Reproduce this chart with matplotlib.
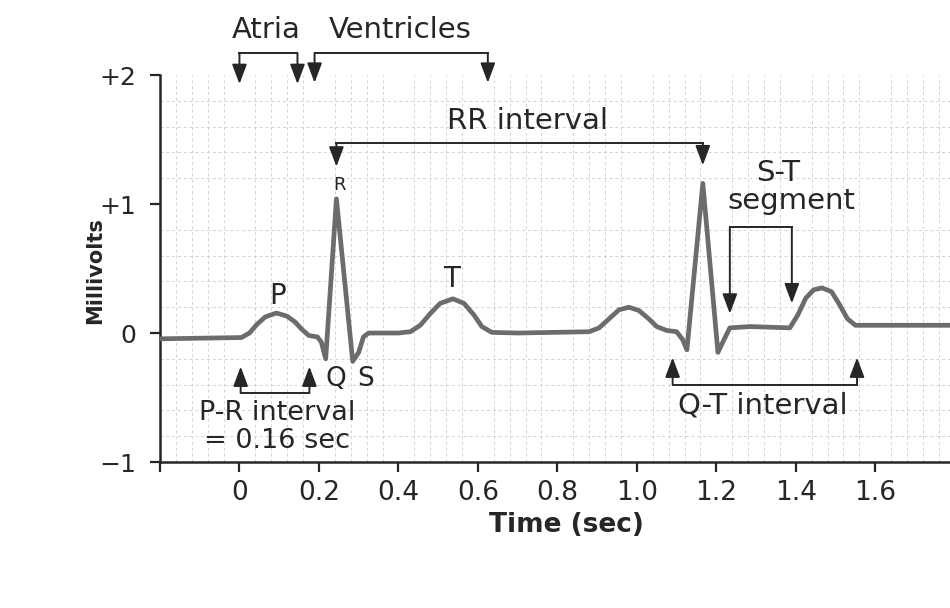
import matplotlib
matplotlib.use("Agg")
import matplotlib.pyplot as plt
import numpy as np

# ECG trace (time in s, potential in mV)
time_s = [-0.200, 0.005, 0.025, 0.045, 0.065, 0.093, 0.120, 0.140, 0.158,
          0.175, 0.196, 0.206, 0.217, 0.244, 0.285, 0.300, 0.312, 0.325,
          0.400, 0.430, 0.455, 0.480, 0.505, 0.537, 0.565, 0.590, 0.610,
          0.635, 0.700, 0.880, 0.905, 0.930, 0.955, 0.980, 1.005, 1.030,
          1.050, 1.075, 1.100, 1.115, 1.126, 1.166, 1.204, 1.218, 1.234,
          1.285, 1.385, 1.405, 1.425, 1.445, 1.466, 1.490, 1.510, 1.530,
          1.550, 1.788]
millivolts = [-0.045, -0.035, 0.000, 0.070, 0.125, 0.155, 0.130, 0.085, 0.025,
              -0.020, -0.030, -0.070, -0.200, 1.040, -0.220, -0.150, -0.030, 0.000,
              0.000, 0.010, 0.060, 0.150, 0.230, 0.265, 0.230, 0.140, 0.050,
              0.005, 0.000, 0.010, 0.040, 0.110, 0.180, 0.200, 0.175, 0.110,
              0.050, 0.020, 0.010, -0.050, -0.130, 1.160, -0.150, -0.060, 0.040,
              0.050, 0.040, 0.140, 0.270, 0.335, 0.350, 0.320, 0.220, 0.110,
              0.060, 0.060]

x_ticks = [-0.2, 0, 0.2, 0.4, 0.6, 0.8, 1.0, 1.2, 1.4, 1.6]
x_labels = ["", "0", "0.2", "0.4", "0.6", "0.8", "1.0", "1.2", "1.4", "1.6"]
y_ticks = [-1, 0, 1, 2]
y_labels = ["\u22121", "0", "+1", "+2"]

ink = "#262626"
plt.rcParams["font.family"] = ["DejaVu Sans"]

fig = plt.figure(figsize=(9.5, 6.08), dpi=100)
ax = fig.add_axes([0.1684, 0.2401, 0.8316, 0.6365])
ax.set_xlim(-0.2, 1.788)
ax.set_ylim(-1, 2)

# faint chart-paper grid
ax.set_xticks(np.arange(-0.2, 1.8, 0.04), minor=True)
ax.set_yticks(np.arange(-1, 2.01, 0.2), minor=True)
ax.grid(which="minor", color="#d2d2d2", lw=0.7, ls=(0, (3, 3)))
ax.tick_params(which="minor", length=0)

ax.plot(time_s, millivolts, color="#6c6c6c", lw=3.4,
        solid_joinstyle="round", solid_capstyle="round", zorder=3)

for side in ["top", "right"]:
    ax.spines[side].set_visible(False)
for side in ["left", "bottom"]:
    ax.spines[side].set_linewidth(1.8)
    ax.spines[side].set_color(ink)

ax.set_xticks(x_ticks)
ax.set_xticklabels(x_labels)
ax.set_yticks(y_ticks)
ax.set_yticklabels(y_labels)
ax.tick_params(axis="x", which="major", direction="out", length=7, width=1.6,
               color=ink, labelsize=19, labelcolor=ink, pad=6)
ax.tick_params(axis="y", which="major", direction="out", length=7, width=1.6,
               color=ink, labelsize=18, labelcolor=ink, pad=10)

ax.set_xlabel("Time (sec)", fontsize=19, fontweight="bold", color=ink, va="center")
ax.xaxis.set_label_coords(0.514, -0.163)
ax.set_ylabel("Millivolts", fontsize=15, fontweight="bold", color=ink, va="center")
ax.yaxis.set_label_coords(-0.082, 0.496)

arrow = dict(arrowstyle="-|>,head_length=0.8,head_width=0.3", mutation_scale=15,
             color=ink, lw=1.4, shrinkA=0, shrinkB=0)


def bracket(x1, x2, y_bar, tip1, tip2):
    ax.plot([x1, x2], [y_bar, y_bar], color=ink, lw=1.4, clip_on=False, zorder=4)
    ax.annotate("", xy=(x1, tip1), xytext=(x1, y_bar), arrowprops=arrow,
                annotation_clip=False, zorder=4)
    ax.annotate("", xy=(x2, tip2), xytext=(x2, y_bar), arrowprops=arrow,
                annotation_clip=False, zorder=4)


bracket(0.0, 0.146, 2.17, 1.93, 1.93)        # atria
bracket(0.189, 0.625, 2.17, 1.94, 1.94)      # ventricles
bracket(0.244, 1.166, 1.47, 1.29, 1.30)      # RR interval
bracket(0.003, 0.176, -0.465, -0.26, -0.26)  # P-R interval
bracket(1.234, 1.390, 0.82, 0.15, 0.23)      # S-T segment
bracket(1.090, 1.554, -0.40, -0.19, -0.19)   # Q-T interval

txt = dict(color=ink, ha="center", va="center", zorder=5)
ax.text(0.068, 2.35, "Atria", fontsize=21, clip_on=False, **txt)
ax.text(0.405, 2.35, "Ventricles", fontsize=21, clip_on=False, **txt)
ax.text(0.725, 1.64, "RR interval", fontsize=21, **txt)
ax.text(0.252, 1.15, "R", fontsize=13, **txt)
ax.text(0.096, 0.29, "P", fontsize=20, **txt)
ax.text(0.534, 0.42, "T", fontsize=20, **txt)
ax.text(0.243, -0.36, "Q", fontsize=19, **txt)
ax.text(0.317, -0.36, "S", fontsize=19, **txt)
ax.text(0.096, -0.62, "P-R interval", fontsize=19.5, **txt)
ax.text(0.094, -0.84, "= 0.16 sec", fontsize=19.5, **txt)
ax.text(1.355, 1.24, "S-T", fontsize=21, **txt)
ax.text(1.390, 1.02, "segment", fontsize=21, **txt)
ax.text(1.317, -0.56, "Q-T interval", fontsize=21, **txt)

fig.savefig("out.png", dpi=100)
